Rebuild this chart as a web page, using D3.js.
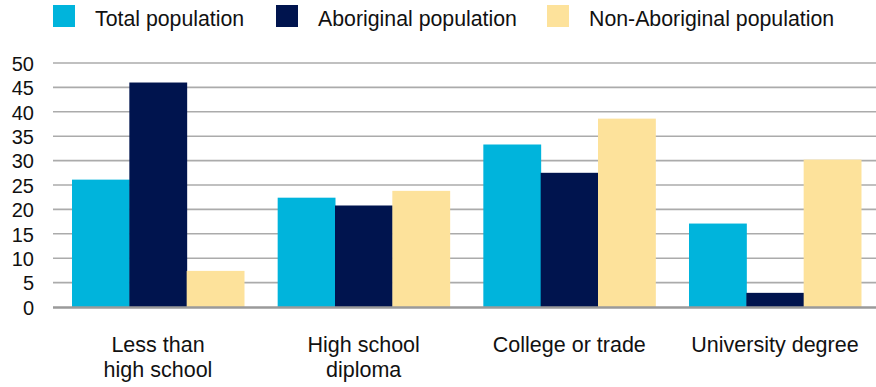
<!DOCTYPE html>
<html>
<head>
<meta charset="utf-8">
<script src="https://cdn.jsdelivr.net/npm/d3@7"></script>
<style>
  html, body { margin: 0; padding: 0; background: #fff; }
  svg { display: block; font-family: "Liberation Sans", Arial, Helvetica, sans-serif; }
</style>
</head>
<body>
<svg id="chart" width="876" height="387"></svg>
<script>
const categories = [["Less than", "high school"], ["High school", "diploma"], ["College or trade"], ["University degree"]];
const seriesNames = ["Total population", "Aboriginal population", "Non-Aboriginal population"];
const totalPopulation = [26.1, 22.4, 33.3, 17.1];
const aboriginalPopulation = [46.0, 20.8, 27.5, 2.9];
const nonAboriginalPopulation = [7.4, 23.8, 38.6, 30.2];
const yTicks = [0, 5, 10, 15, 20, 25, 30, 35, 40, 45, 50];
const colors = ["#00B4DC", "#00144E", "#FDE29B"];

const seriesValues = [totalPopulation, aboriginalPopulation, nonAboriginalPopulation];
const svg = d3.select("#chart");
const plotLeft = 53, plotRight = 876, plotTop = 63, plotBottom = 307;

const y = d3.scaleLinear().domain([0, 50]).range([plotBottom, plotTop]);
const x0 = d3.scaleBand().domain(d3.range(categories.length)).range([53, 880])
  .paddingInner(0.1637).paddingOuter(0.0924);
const x1 = d3.scaleBand().domain(d3.range(seriesNames.length)).range([0, x0.bandwidth()]);

// gridlines
svg.append("g").selectAll("line").data(yTicks.filter(d => d > 0)).join("line")
  .attr("x1", plotLeft).attr("x2", plotRight)
  .attr("y1", d => y(d)).attr("y2", d => y(d))
  .attr("stroke", "#ababab").attr("stroke-width", 1.6);

// y tick labels via axis
const yAxis = svg.append("g").attr("transform", "translate(34,0)")
  .call(d3.axisLeft(y).tickValues(yTicks).tickSize(0).tickPadding(0));
yAxis.select(".domain").remove();
yAxis.selectAll("text").attr("font-size", 20).attr("fill", "#111")
  .attr("font-family", "Liberation Sans, Arial, sans-serif").attr("dy", "0.36em");

// bars
const groups = svg.append("g").selectAll("g").data(categories).join("g")
  .attr("transform", (d, i) => `translate(${x0(i)},0)`);
groups.selectAll("rect").data((d, i) => seriesValues.map((s, j) => ({ j, v: s[i] }))).join("rect")
  .attr("x", d => x1(d.j)).attr("width", x1.bandwidth() + 0.5)
  .attr("y", d => y(d.v)).attr("height", d => y(0) - y(d.v))
  .attr("fill", d => colors[d.j]);

// baseline
svg.append("line").attr("x1", plotLeft).attr("x2", plotRight)
  .attr("y1", y(0) + 0.5).attr("y2", y(0) + 0.5)
  .attr("stroke", "#9a9a9a").attr("stroke-width", 2.5);

// category labels
const lab = svg.append("g").selectAll("text").data(categories).join("text")
  .attr("x", (d, i) => x0(i) + x0.bandwidth() / 2)
  .attr("y", 352).attr("text-anchor", "middle")
  .attr("font-size", 21.5).attr("fill", "#111");
lab.selectAll("tspan").data(d => d).join("tspan")
  .attr("x", function () { return this.parentNode.getAttribute("x"); })
  .attr("dy", (d, i) => i === 0 ? 0 : 25)
  .text(d => d);

// legend
const legendX = [53, 276, 547];
const leg = svg.append("g").selectAll("g").data(seriesNames).join("g")
  .attr("transform", (d, i) => `translate(${legendX[i]},5)`);
leg.append("rect").attr("width", 22).attr("height", 22).attr("fill", (d, i) => colors[i]);
leg.append("text").attr("x", 42).attr("y", 20.5).attr("font-size", 21.3).attr("fill", "#111").text(d => d);
</script>
</body>
</html>
